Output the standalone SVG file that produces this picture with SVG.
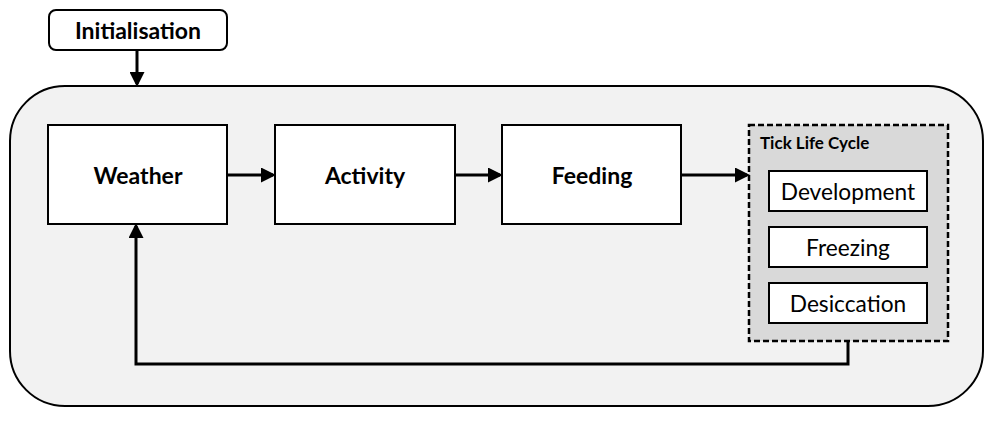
<svg xmlns="http://www.w3.org/2000/svg" width="993" height="421" viewBox="0 0 993 421">
<style>
.box{fill:#fff;stroke:#000;stroke-width:2}
.lbl{font-family:"Lato","Open Sans","Liberation Sans",sans-serif;font-size:22.7px;fill:#000;text-anchor:middle;dominant-baseline:central}
.b{font-weight:bold;font-size:23px}
.con{fill:none;stroke:#000;stroke-width:3}
</style>
<defs>
<marker id="ah" markerWidth="5" markerHeight="5" refX="4" refY="2.5" orient="auto" markerUnits="strokeWidth">
<path d="M0,0 L5,2.5 L0,5 z" fill="#000"/>
</marker>
</defs>
<g id="loop-container">
<rect x="10" y="86" width="973" height="320" rx="55" ry="55" fill="#f2f2f2" stroke="#000" stroke-width="2"/>
</g>
<g id="initialisation">
<rect x="49" y="10" width="178" height="40" rx="7" class="box" stroke-width="1.2"/>
<text x="138" y="30" class="lbl b">Initialisation</text>
</g>
<g id="weather">
<rect x="48" y="125" width="179" height="99" class="box"/>
<text x="138" y="175" class="lbl b">Weather</text>
</g>
<g id="activity">
<rect x="275" y="125" width="180" height="99" class="box"/>
<text x="365" y="175" class="lbl b">Activity</text>
</g>
<g id="feeding">
<rect x="502" y="125" width="179" height="99" class="box"/>
<text x="592" y="175" class="lbl b">Feeding</text>
</g>
<g id="tick-life-cycle">
<rect x="749" y="125" width="199" height="216" fill="#d9d9d9" stroke="#000" stroke-width="2.5" stroke-dasharray="6,3"/>
<text x="760" y="142" font-family="Lato,'Open Sans','Liberation Sans',sans-serif" font-size="17" font-weight="bold" dominant-baseline="central">Tick Life Cycle</text>
</g>
<g id="development">
<rect x="769" y="171" width="158" height="40" class="box"/>
<text x="848" y="191" class="lbl">Development</text>
</g>
<g id="freezing">
<rect x="769" y="227" width="158" height="40" class="box"/>
<text x="848" y="247" class="lbl">Freezing</text>
</g>
<g id="desiccation">
<rect x="769" y="283" width="158" height="40" class="box"/>
<text x="848" y="303" class="lbl">Desiccation</text>
</g>
<g id="connectors">
<path class="con" d="M137,50 V84" marker-end="url(#ah)"/>
<path class="con" d="M227,175 H273" marker-end="url(#ah)"/>
<path class="con" d="M455,175 H500" marker-end="url(#ah)"/>
<path class="con" d="M681,175 H747" marker-end="url(#ah)"/>
<path class="con" d="M848,341 V364 H136 V226" marker-end="url(#ah)"/>
</g>
</svg>
